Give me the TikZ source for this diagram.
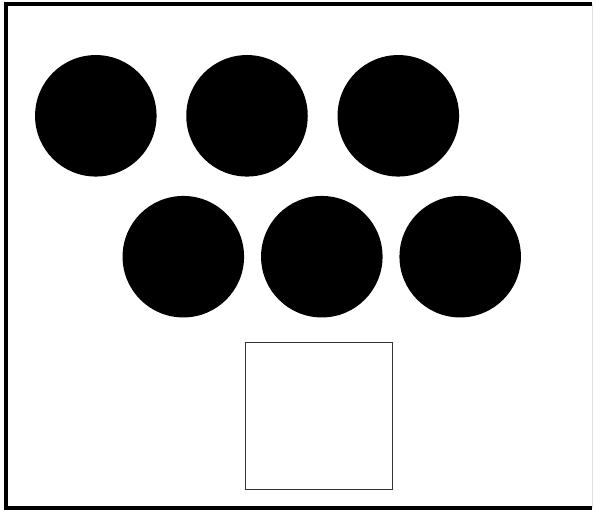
\documentclass[tikz,border=0pt]{standalone}
\usepackage{tikz}
\tikzset{
  frame/.style={line width=4pt,draw=black},
  edge/.style={line width=.8pt,draw=black!12},
  dot/.style={circle,fill=black,minimum size=121.5pt,inner sep=0pt,outer sep=0pt},
  box/.style={rectangle,draw=black!80,line width=1.2pt,minimum width=147pt,minimum height=146.5pt,inner sep=0pt},
}
\begin{document}
\begin{tikzpicture}[x=1pt,y=-1pt]
\path[use as bounding box] (0,0) rectangle (596,510);
\fill[white] (0,0) rectangle (596,510);
% outer frame, thick on three sides
\coordinate (tr) at (592,4.3);
\coordinate (tl) at (6,4.3);
\coordinate (bl) at (6,508);
\coordinate (br) at (592,508);
\draw[edge] (tr) -- (br);
\draw[frame] (tr) -- (tl) -- (bl) -- (br);
% upper row of dots
\foreach \i/\x in {1/95.8,2/247,3/398.3}
  \node[dot] (up\i) at (\x,115.8) {};
% lower row of dots
\foreach \i/\x in {1/183.3,2/321.8,3/460.2}
  \node[dot] (low\i) at (\x,256.7) {};
% empty square
\node[box] (sq) at (319.3,416) {};
\end{tikzpicture}
\end{document}
